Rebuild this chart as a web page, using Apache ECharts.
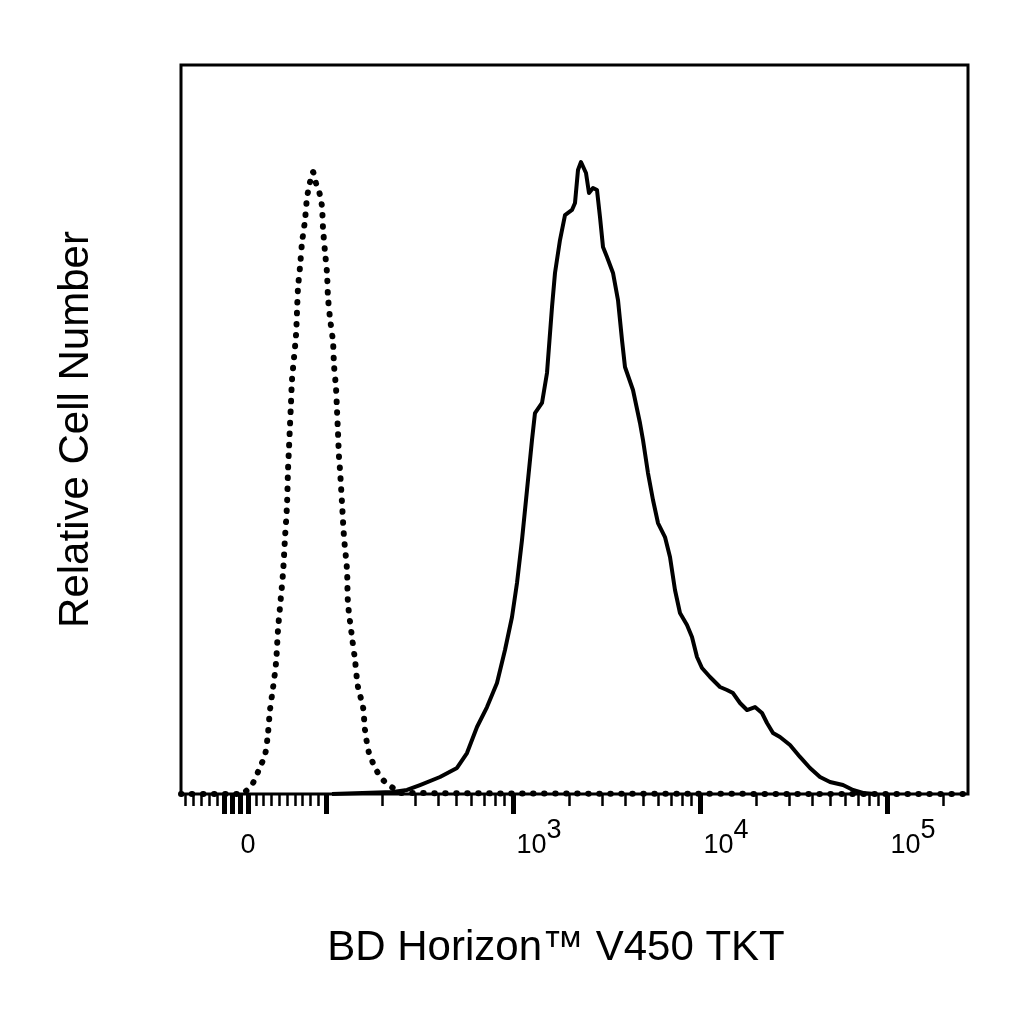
<!DOCTYPE html>
<html>
<head>
<meta charset="utf-8">
<title>BD Horizon V450 TKT</title>
<script src="https://cdn.jsdelivr.net/npm/echarts@6/dist/echarts.min.js"></script>
<style>
html,body{margin:0;padding:0;background:#fff;}
#chart{width:1024px;height:1024px;}
</style>
</head>
<body>
<div id="chart"></div>
<script>
// x values are in display (decade) units of the biexponential axis: 10^3 -> 3, 10^4 -> 4 ...
var axisMin = 1.2246, axisMax = 5.4332;
var zeroPos = 1.583;//where 0 sits on the display axis

// isotype control (dotted)
var isotypeX = [1.2246,1.5401,1.5668,1.6096,1.6471,1.6738,1.6898,1.7005,1.7166,1.7326,1.7433,1.7540,1.7701,1.7807,1.7914,1.7968,1.8021,1.8075,1.8128,1.8182,1.8289,1.8396,1.8449,1.8503,1.8610,1.8717,1.8877,1.8984,1.9091,1.9305,1.9465,1.9679,1.9786,1.9840,1.9947,2.0053,2.0107,2.0214,2.0374,2.0428,2.0535,2.0588,2.0642,2.0695,2.0749,2.0856,2.0963,2.1123,2.1176,2.1390,2.1551,2.1711,2.1979,2.2086,2.2299,2.2513,2.2781,2.3155,2.3583,2.3957,5.4332];
var isotypeY = [0,0,0.27,1.51,3.70,5.35,8.37,11.52,14.54,17.97,22.50,25.65,30.32,35.12,39.64,44.44,47.46,50.62,53.64,56.79,59.81,62.96,66.12,69.41,72.29,75.58,78.74,81.76,83.26,85.32,83.81,82.17,80.52,77.64,74.35,71.47,68.18,65.29,62.00,58.85,55.69,52.67,49.52,46.23,44.44,39.92,35.25,30.73,26.20,21.54,18.38,14.68,11.93,8.78,5.62,4.25,2.88,1.65,0.82,0.14,0];

// TKT stained cells (solid)
var stainedX = [2.0321,2.3583,2.4332,2.5027,2.6096,2.7005,2.7540,2.8075,2.8610,2.9144,2.9572,2.9947,3.0214,3.0481,3.0749,3.1016,3.1176,3.1551,3.1818,3.2086,3.2246,3.2513,3.2781,3.3155,3.3316,3.3476,3.3636,3.3904,3.4064,3.4278,3.4492,3.4652,3.4813,3.5027,3.5348,3.5615,3.5829,3.5989,3.6417,3.6791,3.6952,3.7219,3.7487,3.7754,3.8128,3.8396,3.8663,3.8930,3.9305,3.9572,3.9840,4.0107,4.0535,4.1070,4.1444,4.1765,4.2139,4.2513,4.2941,4.3316,4.3583,4.3904,4.4278,4.4813,4.5348,4.5882,4.6417,4.6952,4.7647,4.8182,4.8717,4.9358];
var stainedY = [0,0.27,0.55,1.23,2.33,3.57,5.62,9.19,11.93,15.23,19.75,24.28,28.94,34.84,41.70,48.56,52.26,53.64,57.75,66.80,71.47,75.99,79.42,80.11,81.07,85.60,86.69,85.19,82.44,83.13,82.85,79.15,75.03,73.66,71.47,67.76,62.28,58.57,55.42,50.89,48.56,44.03,40.33,37.17,35.25,32.51,27.98,24.83,23.18,21.54,18.79,17.28,16.05,14.68,14.27,13.85,12.48,11.52,11.93,11.11,9.74,8.37,7.82,6.72,5.08,3.57,2.33,1.65,1.23,0.55,0.14,0];

// tick values in fluorescence units
var minorTickValues = [-90,-80,-70,-60,-50,-40,10,20,30,40,50,60,70,80,90,200,300,400,500,600,700,800,900,2000,3000,4000,5000,6000,7000,8000,9000,20000,30000,40000,50000,60000,70000,80000,90000,200000];
var majorTickValues = [-30,-20,-10,0,100,1000,10000,100000];
var labelValues = [0,1000,10000,100000];
var labelPowers = [null,3,4,5];

var fontFam = 'Liberation Sans, Arial, Helvetica, sans-serif';

//biexponential-ish: linear around zero, log above 100
function toDisplay(v){
    var a = Math.abs(v), d;
    if (a <= 100) {
        d = a / 100 * (2 - zeroPos);
    } else {
        d = Math.log10(a) - zeroPos;
    }
    return v < 0 ? zeroPos - d : zeroPos + d;
}
function inRange(arr){
    var out = [];
    for (var i = 0; i < arr.length; i++) {
        var d = toDisplay(arr[i]);
        if (d >= axisMin && d <= axisMax) out.push(d);
    }
    return out;
}
function pairs(xs, ys){
    var out = [];
    for (var i = 0; i < xs.length; i++) out.push([xs[i], ys[i]]);
    return out;
}

var labelPos = labelValues.map(toDisplay);

var option = {
    backgroundColor: '#fff',
    animation: false,
    grid: {
        left: 181, top: 65, width: 787, height: 729,
        show: true, borderColor: '#000', borderWidth: 3, backgroundColor: '#fff'
    },
    xAxis: [
        {
            type: 'value', min: axisMin, max: axisMax,
            axisLine: {show: true, onZero: false, lineStyle: {color: '#000', width: 2}},
            splitLine: {show: false},
            axisLabel: {show: false},
            axisTick: {show: true, customValues: inRange(minorTickValues), length: 12, lineStyle: {color: '#000', width: 2.5}}
        },
        {
            type: 'value', min: axisMin, max: axisMax, position: 'bottom',
            axisLine: {show: false},
            splitLine: {show: false},
            axisTick: {show: true, customValues: inRange(majorTickValues), length: 20, lineStyle: {color: '#000', width: 5}},
            axisLabel: {
                show: true,
                customValues: labelPos,
                margin: 23,
                align: 'center',
                formatter: function (val) {
                    var k = 0, best = 1e9;
                    for (var i = 0; i < labelPos.length; i++) {
                        if (Math.abs(labelPos[i] - val) < best) { best = Math.abs(labelPos[i] - val); k = i; }
                    }
                    if (labelPowers[k] == null) return '{h|}{b|0}';
                    return '{gap|}{b|10}{s|' + labelPowers[k] + '}';
                },
                rich: {
                    h: {width: 0, height: 42},
                    gap: {width: 52, height: 42},
                    b: {fontSize: 27, lineHeight: 27, fontFamily: fontFam, color: '#000', verticalAlign: 'bottom'},
                    s: {fontSize: 27, lineHeight: 27, fontFamily: fontFam, color: '#000', verticalAlign: 'top'}
                }
            },
            name: 'BD Horizon™ V450 TKT',
            nameLocation: 'middle',
            nameGap: 133,
            nameTextStyle: {fontSize: 42, fontFamily: fontFam, color: '#000', padding: [0, 37, 0, 0]}
        }
    ],
    yAxis: {
        type: 'value', min: 0, max: 100,
        axisLine: {show: false}, axisTick: {show: false}, axisLabel: {show: false}, splitLine: {show: false},
        name: 'Relative Cell Number',
        nameLocation: 'middle',
        nameRotate: 90,
        nameGap: 84,
        nameTextStyle: {fontSize: 42, fontFamily: fontFam, color: '#000'}
    },
    series: [
        {
            name: 'Isotype',
            type: 'line',
            xAxisIndex: 0,
            data: pairs(isotypeX, isotypeY),
            showSymbol: false,
            smooth: 0.3,
            lineStyle: {color: '#000', width: 6, type: [0.5, 10.5], cap: 'round'},
            z: 3
        },
        {
            name: 'TKT',
            type: 'line',
            xAxisIndex: 0,
            data: pairs(stainedX, stainedY),
            showSymbol: false,
            lineStyle: {color: '#000', width: 4, join: 'round'},
            z: 4
        }
    ]
};
var myChart = echarts.init(document.getElementById('chart'));
myChart.setOption(option);
</script>
</body>
</html>
